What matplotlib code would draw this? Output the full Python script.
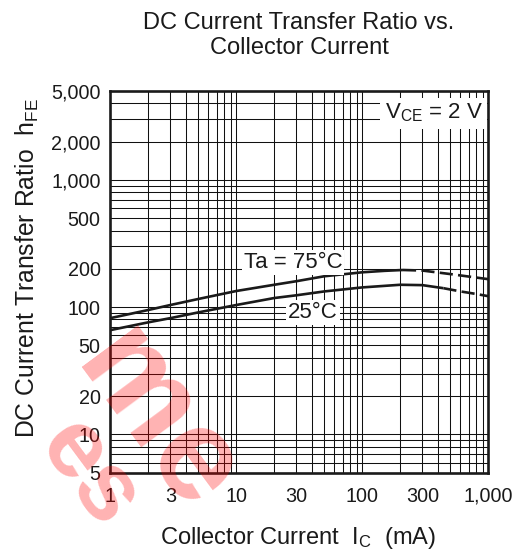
import matplotlib
matplotlib.use("Agg")
import matplotlib.pyplot as plt
from matplotlib.ticker import FixedLocator, NullFormatter

plt.rcParams['font.family'] = ['Liberation Sans', 'DejaVu Sans']
plt.rcParams['mathtext.fontset'] = 'custom'
plt.rcParams['mathtext.rm'] = 'Liberation Sans'
plt.rcParams['mathtext.it'] = 'Liberation Sans:italic'

# collector current (mA) / hFE
ic_75 = [1, 2, 3, 5, 10, 20, 30, 50, 100, 150, 210]
hfe_75 = [82, 95, 104, 116, 134, 150, 160, 175, 188, 193, 196]
ic_75_dash = [210, 300, 500, 700, 1000]
hfe_75_dash = [196, 194, 182, 174, 166]

ic_25 = [1, 2, 3, 5, 10, 20, 30, 50, 100, 200, 300, 440]
hfe_25 = [66, 76, 82, 91, 104, 118, 124, 133, 143, 150, 149, 141]
ic_25_dash = [440, 600, 800, 1000]
hfe_25_dash = [141, 133, 127, 122]

x_ticks = [1, 3, 10, 30, 100, 300, 1000]
x_labels = ['1', '3', '10', '30', '100', '300', '1,000']
y_ticks = [5, 10, 20, 50, 100, 200, 500, 1000, 2000, 5000]
y_labels = ['5', '10', '20', '50', '100', '200', '500', '1,000', '2,000', '5,000']

fig = plt.figure(figsize=(5.23, 5.55), dpi=100)
ax = fig.add_axes([0.2109, 0.1483, 0.7228, 0.6877])

ax.set_xscale('log')
ax.set_yscale('log')
ax.set_xlim(1, 1000)
ax.set_ylim(5, 5000)

minor_x = [m * 10 ** d for d in range(0, 3) for m in range(1, 10)]
minor_y = [m * 10 ** d for d in range(0, 4) for m in range(1, 10) if 5 <= m * 10 ** d <= 5000]
ax.xaxis.set_major_locator(FixedLocator(x_ticks))
ax.xaxis.set_minor_locator(FixedLocator(minor_x))
ax.yaxis.set_major_locator(FixedLocator(y_ticks))
ax.yaxis.set_minor_locator(FixedLocator(minor_y))
ax.set_xticklabels(x_labels)
ax.set_yticklabels(y_labels)
ax.xaxis.set_minor_formatter(NullFormatter())
ax.yaxis.set_minor_formatter(NullFormatter())
ax.tick_params(which='both', length=0, labelsize=14.2, colors='#1a1a1a')
ax.tick_params(axis='x', pad=10)
ax.tick_params(axis='y', pad=7)

ax.grid(which='both', color='#111111', lw=0.75)
ax.set_axisbelow(True)
for s in ax.spines.values():
    s.set_linewidth(1.9)
    s.set_color('#1a1a1a')

ax.plot(ic_75, hfe_75, color='#1a1a1a', lw=1.9, solid_capstyle='butt')
ax.plot(ic_75_dash, hfe_75_dash, color='#1a1a1a', lw=1.9, dashes=(5, 2))
ax.plot(ic_25, hfe_25, color='#1a1a1a', lw=1.9, solid_capstyle='butt')
ax.plot(ic_25_dash, hfe_25_dash, color='#1a1a1a', lw=1.9, dashes=(5, 2))

box = dict(facecolor='white', edgecolor='none', pad=1.5)
ax.text(0.483, 0.552, 'Ta = 75\u00b0C', transform=ax.transAxes, ha='center', va='center',
        fontsize=16, color='#1a1a1a', bbox=box)
ax.text(0.536, 0.421, '25\u00b0C', transform=ax.transAxes, ha='center', va='center',
        fontsize=16, color='#1a1a1a', bbox=box)
ax.text(0.985, 0.942, r'V$\mathregular{_{CE}}$ = 2 V', transform=ax.transAxes, ha='right', va='center',
        fontsize=16, color='#1a1a1a', bbox=dict(facecolor='white', edgecolor='none', pad=3))

fig.text(0.5717, 0.936, 'DC Current Transfer Ratio vs.\nCollector Current', ha='center', va='center',
         fontsize=17, color='#1a1a1a', linespacing=1.2)
fig.text(0.570, 0.0306, r'Collector Current  I$\mathregular{_C}$  (mA)', ha='center', va='center',
         fontsize=17, color='#1a1a1a')
fig.text(0.0516, 0.517, r'DC Current Transfer Ratio  h$\mathregular{_{FE}}$', ha='center', va='center',
         rotation=90, fontsize=17.8, color='#1a1a1a')

# red diagonal watermark fragments in the lower left corner
wm = dict(rotation=-53.5, rotation_mode='anchor', ha='center', va='center',
          fontweight='bold', color='red', alpha=0.3, zorder=10)
fig.text(156 / 523, 1 - 423 / 555, 'me', fontsize=95, **wm)
fig.text(88 / 523, 1 - 474 / 555, 'es', fontsize=70, **wm)

fig.savefig('out.png', dpi=100)
